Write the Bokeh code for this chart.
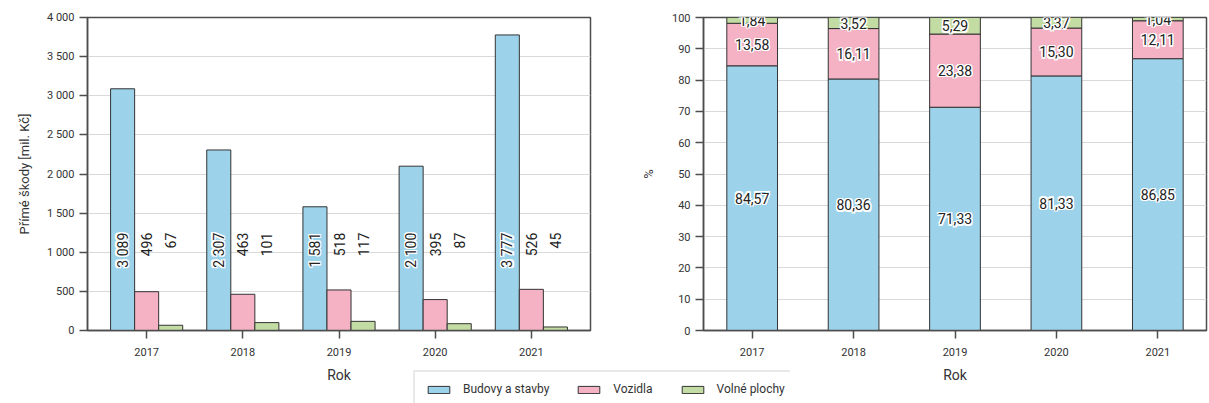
import math
import numpy as np
from bokeh.plotting import figure
from bokeh.models import ColumnDataSource, Range1d, FixedTicker, Legend, LegendItem
from bokeh.transform import dodge
from bokeh.layouts import row, column
from bokeh.core.properties import value
from bokeh.embed import file_html
from bokeh.resources import INLINE

# ---------------- data ----------------
years = [2017, 2018, 2019, 2020, 2021]
year_labels = ["2017", "2018", "2019", "2020", "2021"]
series_names = ["Budovy a stavby", "Vozidla", "Volné plochy"]

budovy = [3089, 2307, 1581, 2100, 3777]
vozidla = [496, 463, 518, 395, 526]
volne = [67, 101, 117, 87, 45]

budovy_pct = [84.57, 80.36, 71.33, 81.33, 86.85]
vozidla_pct = [13.58, 16.11, 23.38, 15.30, 12.11]
volne_pct = [1.84, 3.52, 5.29, 3.37, 1.04]

left_ticks = [0, 500, 1000, 1500, 2000, 2500, 3000, 3500, 4000]
left_tick_labels = ["0", "500", "1 000", "1 500", "2 000", "2 500", "3 000", "3 500", "4 000"]
pct_ticks = [0, 10, 20, 30, 40, 50, 60, 70, 80, 90, 100]
pct_tick_labels = ["0", "10", "20", "30", "40", "50", "60", "70", "80", "90", "100"]

# ---------------- style ----------------
COLORS = ["#9dd3ea", "#f4b2c4", "#c3dca3"]
FONT = "Roboto"
TXT = "#333333"
AXC = "#4d4d4d"
GRID = "#d9d9d9"
LABEL_Y = 1250


def fmt_int(v):
    return f"{v:,}".replace(",", " ")


def fmt_pct(v):
    return f"{v:.2f}".replace(".", ",")


def style_axes(p, yticks, ylabels, ylabel):
    p.xaxis.ticker = FixedTicker(ticks=years)
    p.xaxis.major_label_overrides = {y: l for y, l in zip(years, year_labels)}
    p.yaxis.ticker = FixedTicker(ticks=yticks)
    p.yaxis.major_label_overrides = {t: l for t, l in zip(yticks, ylabels)}
    for ax in (p.xaxis, p.yaxis):
        ax.major_tick_out = 8
        ax.major_tick_in = 0
        ax.minor_tick_line_color = None
        ax.major_tick_line_color = AXC
        ax.major_tick_line_width = 1.5
        ax.axis_line_color = AXC
        ax.axis_line_width = 1.5
        ax.major_label_text_font = FONT
        ax.major_label_text_font_size = "11px"
        ax.major_label_text_color = TXT
        ax.axis_label_text_font = FONT
        ax.axis_label_text_font_style = "normal"
        ax.axis_label_text_color = TXT
    p.xaxis.axis_label = "Rok"
    p.xaxis.axis_label_text_font_size = "14px"
    p.xaxis.major_label_standoff = 9
    p.xaxis.axis_label_standoff = 8
    p.yaxis.axis_label = ylabel
    p.yaxis.axis_label_text_font_size = "13px"
    p.yaxis.major_label_standoff = 5
    p.xgrid.grid_line_color = None
    p.ygrid.grid_line_color = GRID
    p.ygrid.grid_line_width = 1
    p.outline_line_color = AXC
    p.outline_line_width = 1.5
    p.outline_line_alpha = 1


def halo_text(p, src, x, y, text, angle=0.0, align="center", baseline="middle", size="14px", d=1.3):
    offs = [(dx, dy) for dx in (-d, 0, d) for dy in (-d, 0, d) if not (dx == 0 and dy == 0)]
    for dx, dy in offs:
        p.text(x=x, y=y, text=text, source=src, angle=angle, x_offset=dx, y_offset=dy,
               text_color="white", text_font=value(FONT), text_font_size=size,
               text_align=align, text_baseline=baseline)
    p.text(x=x, y=y, text=text, source=src, angle=angle,
           text_color="#222222", text_font=value(FONT), text_font_size=size,
           text_align=align, text_baseline=baseline)


# ---------------- left chart ----------------
src1 = ColumnDataSource(dict(
    year=years, b=budovy, v=vozidla, o=volne,
    bl=[fmt_int(v) for v in budovy], vl=[fmt_int(v) for v in vozidla], ol=[fmt_int(v) for v in volne],
    ly=[LABEL_Y] * len(years),
))

p1 = figure(frame_width=503, frame_height=313, min_border_left=87, min_border_right=10,
            min_border_top=17, min_border_bottom=73,
            x_range=Range1d(2016.385, 2021.615), y_range=Range1d(0, 4000),
            output_backend="svg", toolbar_location=None)
p1.border_fill_color = None

for col, off, c in zip(["b", "v", "o"], [-0.25, 0.0, 0.25], COLORS):
    p1.vbar(x=dodge("year", off, range=p1.x_range), top=col, width=0.25, source=src1,
            fill_color=c, line_color="#333333", line_width=1)

halo_text(p1, src1, dodge("year", -0.25, range=p1.x_range), "ly", "bl",
          angle=math.pi / 2, align="right", size="14px")
for col, off in zip(["vl", "ol"], [0.0, 0.25]):
    p1.text(x=dodge("year", off, range=p1.x_range), y="ly", text=col, source=src1,
            angle=math.pi / 2, text_align="right", text_baseline="middle",
            text_color="#222222", text_font=value(FONT), text_font_size="14px")

style_axes(p1, left_ticks, left_tick_labels, "Přímé škody [mil. Kč]")
p1.yaxis.axis_label_standoff = 12

# ---------------- right chart ----------------
b = np.array(budovy_pct)
v = np.array(vozidla_pct)
o = np.array(volne_pct)
src2 = ColumnDataSource(dict(
    year=years, b=budovy_pct, v=vozidla_pct, o=volne_pct,
    bm=list(b / 2), vm=list(b + v / 2), om=list(b + v + o / 2),
    bl=[fmt_pct(x) for x in budovy_pct], vl=[fmt_pct(x) for x in vozidla_pct],
    ol=[fmt_pct(x) for x in volne_pct],
))

p2 = figure(frame_width=503, frame_height=313, min_border_left=103, min_border_right=3,
            min_border_top=17, min_border_bottom=73,
            x_range=Range1d(2016.52, 2021.48), y_range=Range1d(0, 100),
            output_backend="svg", toolbar_location=None)
p2.border_fill_color = None

rs = p2.vbar_stack(["b", "v", "o"], x="year", width=0.5, source=src2,
                   fill_color=COLORS, line_color="#333333", line_width=1)

for ycol, tcol in zip(["bm", "vm", "om"], ["bl", "vl", "ol"]):
    halo_text(p2, src2, "year", ycol, tcol, size="14px")

style_axes(p2, pct_ticks, pct_tick_labels, "%")
p2.yaxis.axis_label_standoff = 13

# ---------------- legend (own small figure, overlapping the bottom) ----------------
pl = figure(width=377, height=33, min_border=0, x_range=Range1d(0, 1), y_range=Range1d(0, 1),
            x_axis_type=None, y_axis_type=None, output_backend="svg", toolbar_location=None)
pl.outline_line_color = None
pl.xgrid.grid_line_color = None
pl.ygrid.grid_line_color = None
pl.background_fill_color = "white"
pl.border_fill_color = None
# legend proxies: same data, but outside this tiny figure's visible range
proxies = pl.vbar_stack(["b", "v", "o"], x="year", width=0.5, source=src2,
                        fill_color=COLORS, line_color="#333333", line_width=1)
legend = Legend(items=[LegendItem(label=n, renderers=[r]) for n, r in zip(series_names, proxies)],
                orientation="horizontal", location="top_left")
legend.glyph_width = 27
legend.glyph_height = 9
legend.label_standoff = 11
legend.spacing = 26
legend.padding = 10
legend.margin = 0
legend.label_text_font = FONT
legend.label_text_font_size = "12px"
legend.label_text_color = TXT
legend.border_line_color = "#d3d3d3"
legend.border_line_width = 2
legend.background_fill_color = "white"
legend.background_fill_alpha = 1
pl.add_layout(legend)
pl.margin = (-33, 0, 0, 413)

layout = column(row(p1, p2), pl)
open("out.html", "w").write(file_html(layout, INLINE))
